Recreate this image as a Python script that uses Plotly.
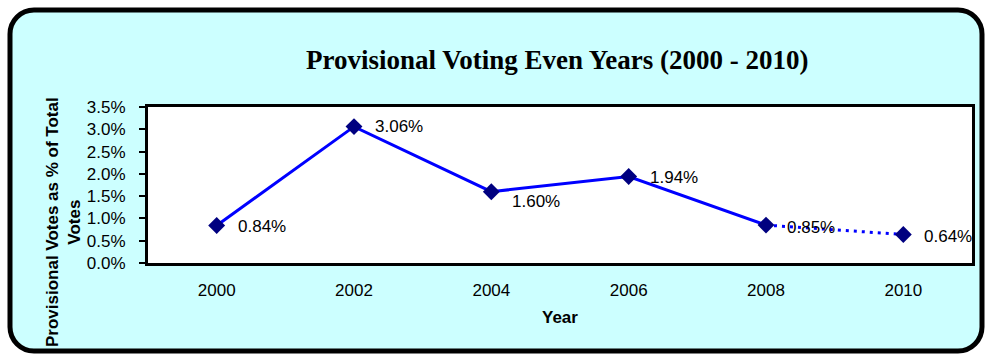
import plotly.graph_objects as go

# Provisional ballots as a share of all votes cast, even-numbered years
years = ["2000", "2002", "2004", "2006", "2008", "2010"]
pct_values = [0.84, 3.06, 1.60, 1.94, 0.85, 0.64]
value_labels = ["0.84%", "3.06%", "1.60%", "1.94%", "0.85%", "0.64%"]
label_yshift = [-1, 0, -10, -1, -2, -2]

y_ticks = [0, 0.5, 1.0, 1.5, 2.0, 2.5, 3.0, 3.5]
y_tick_text = ["0.0%", "0.5%", "1.0%", "1.5%", "2.0%", "2.5%", "3.0%", "3.5%"]

W, H = 987, 356
M_L, M_R, M_T, M_B = 148, 15, 107, 93
PLOT_W = W - M_L - M_R
PLOT_H = H - M_T - M_B


def px(xpix):
    return (xpix - M_L) / PLOT_W


def py(ypix):
    return (H - M_B - ypix) / PLOT_H


def rounded_rect(left, top, right, bottom, r):
    k = 0.5523 * r
    pts = [
        ("M", [(left + r, top)]),
        ("L", [(right - r, top)]),
        ("C", [(right - r + k, top), (right, top + r - k), (right, top + r)]),
        ("L", [(right, bottom - r)]),
        ("C", [(right, bottom - r + k), (right - r + k, bottom), (right - r, bottom)]),
        ("L", [(left + r, bottom)]),
        ("C", [(left + r - k, bottom), (left, bottom - r + k), (left, bottom - r)]),
        ("L", [(left, top + r)]),
        ("C", [(left, top + r - k), (left + r - k, top), (left + r, top)]),
    ]
    out = []
    for cmd, coords in pts:
        out.append(cmd + " ".join(f"{px(x):.5f},{py(y):.5f}" for x, y in coords))
    return " ".join(out) + " Z"


BLUE = "#0000FF"
NAVY = "#000080"
SANS = "Liberation Sans, Arial, sans-serif"

fig = go.Figure()

# solid segment 2000-2008
fig.add_trace(go.Scatter(
    x=years[:5], y=pct_values[:5], mode="lines",
    line=dict(color=BLUE, width=3), hoverinfo="skip", showlegend=False,
))
# dotted segment 2008-2010
fig.add_trace(go.Scatter(
    x=years[4:], y=pct_values[4:], mode="lines",
    line=dict(color=BLUE, width=3, dash="3px,5px"), hoverinfo="skip", showlegend=False,
))
# diamond markers
fig.add_trace(go.Scatter(
    x=years, y=pct_values, mode="markers",
    marker=dict(symbol="diamond", size=13, color=NAVY, line=dict(width=0)),
    showlegend=False,
))

# value labels to the right of each marker (category index on the x axis)
for i, (v, lab, dy) in enumerate(zip(pct_values, value_labels, label_yshift)):
    fig.add_annotation(
        x=i, y=v, xref="x", yref="y", text=lab, showarrow=False,
        xanchor="left", yanchor="middle", xshift=19, yshift=dy,
        font=dict(family=SANS, size=17, color="black"),
    )

shapes = [
    dict(type="path", xref="paper", yref="paper", layer="below",
         path=rounded_rect(10, 10, 982, 351, 24),
         fillcolor="#CCFFFF", line=dict(color="black", width=5)),
    dict(type="rect", xref="paper", yref="paper", layer="below",
         x0=0, x1=1, y0=0, y1=1, fillcolor="white", line=dict(width=0)),
]

fig.add_annotation(
    x=px(557), y=py(60), xref="paper", yref="paper",
    text="<b>Provisional Voting Even Years (2000 - 2010)</b>", showarrow=False,
    xanchor="center", yanchor="middle",
    font=dict(family="Liberation Serif, Times New Roman, serif", size=27, color="black"),
)
fig.add_annotation(
    x=px(63), y=py(222), xref="paper", yref="paper",
    text="<b>Provisional Votes as % of Total<br>Votes</b>", showarrow=False,
    textangle=-90, xanchor="center", yanchor="middle",
    font=dict(family=SANS, size=17, color="black"),
)
fig.add_annotation(
    x=0.5, y=py(317), xref="paper", yref="paper",
    text="<b>Year</b>", showarrow=False, xanchor="center", yanchor="middle",
    font=dict(family=SANS, size=17, color="black"),
)

fig.update_layout(
    width=W, height=H, autosize=False,
    margin=dict(l=M_L, r=M_R, t=M_T, b=M_B, pad=0),
    paper_bgcolor="white", plot_bgcolor="white",
    shapes=shapes,
    xaxis=dict(
        type="category", categoryorder="array", categoryarray=years,
        range=[-0.5, 5.5], showgrid=False, zeroline=False,
        showline=True, linecolor="black", linewidth=3, mirror=True,
        ticks="", ticklabelstandoff=10,
        tickfont=dict(family=SANS, size=17, color="black"),
    ),
    yaxis=dict(
        range=[0, 3.5], tickvals=y_ticks, ticktext=y_tick_text,
        showgrid=False, zeroline=False,
        showline=True, linecolor="black", linewidth=3, mirror=True,
        ticks="outside", ticklen=6, tickwidth=2, tickcolor="black",
        ticklabelstandoff=10,
        tickfont=dict(family=SANS, size=17, color="black"),
    ),
)

fig.write_html("out.html")
